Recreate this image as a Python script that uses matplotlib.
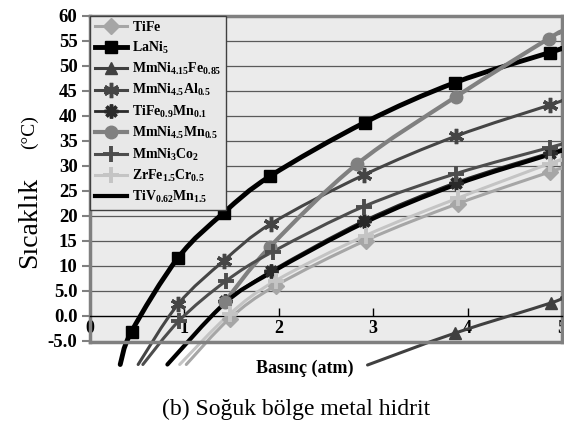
import matplotlib
matplotlib.use("Agg")
from matplotlib import pyplot as plt
from matplotlib.path import Path
from matplotlib.patches import PathPatch, Rectangle
from matplotlib.lines import Line2D
import numpy as np

plt.rcParams["font.family"] = ["Liberation Serif", "DejaVu Serif"]
plt.rcParams["mathtext.fontset"] = "custom"
plt.rcParams["mathtext.rm"] = "Liberation Serif"
plt.rcParams["mathtext.bf"] = "Liberation Serif:bold"

# okunan değerler (basınç atm, sıcaklık °C)
tife_x = [1.48, 1.97, 2.92, 3.90, 4.87]
tife_y = [-0.6, 6.0, 15.0, 22.4, 28.7]
lani5_x = [0.44, 0.935, 1.42, 1.91, 2.91, 3.87, 4.87]
lani5_y = [-3.2, 11.6, 20.6, 27.9, 38.6, 46.6, 52.6]
mmfe_x = [3.87, 4.88]
mmfe_y = [-3.5, 2.5]
mmal_x = [0.935, 1.42, 1.92, 2.90, 3.88, 4.87]
mmal_y = [2.3, 11.0, 18.4, 28.1, 35.9, 42.1]
tifemn_x = [1.43, 1.92, 2.90, 3.88, 4.87]
tifemn_y = [2.9, 8.9, 18.9, 26.6, 32.5]
mmmn_x = [1.43, 1.91, 2.83, 3.88, 4.86]
mmmn_y = [2.8, 13.8, 30.3, 43.8, 55.4]
mmco_x = [0.946, 1.44, 1.94, 2.90, 3.88, 4.87]
mmco_y = [-1.0, 6.9, 12.8, 21.8, 28.4, 33.6]
zrfe_x = [1.48, 1.97, 2.92, 3.90, 4.87]
zrfe_y = [0.3, 7.0, 16.0, 23.5, 30.4]
tiv_x = [1.43, 1.92, 2.90, 3.88, 4.87]
tiv_y = [2.5, 8.6, 18.5, 26.2, 32.2]

# eğrilerin grafik dışına taşan uçları: alt uç (x, y) ve x=5'teki değer
tife_ends = [(1.02, -9.8), 29.5]
lani5_ends = [(0.32, -9.8), 53.4]
mmfe_ends = [(2.94, -9.9), 3.6]
mmal_ends = [(0.51, -9.8), 43.0]
tifemn_ends = [None, 33.2]
mmmn_ends = [None, 56.8]
mmco_ends = [(0.56, -9.8), 34.3]
zrfe_ends = [(0.95, -9.8), 31.1]
tiv_ends = [(0.82, -9.8), 33.0]

labels = [r"$\mathbf{TiFe}$", r"$\mathbf{LaNi_5}$", r"$\mathbf{MmNi_{4.15}Fe_{0.85}}$",
          r"$\mathbf{MmNi_{4.5}Al_{0.5}}$", r"$\mathbf{TiFe_{0.9}Mn_{0.1}}$",
          r"$\mathbf{MmNi_{4.5}Mn_{0.5}}$", r"$\mathbf{MmNi_3Co_2}$",
          r"$\mathbf{ZrFe_{1.5}Cr_{0.5}}$", r"$\mathbf{TiV_{0.62}Mn_{1.5}}$"]
ytick_vals = [-5, 0, 5, 10, 15, 20, 25, 30, 35, 40, 45, 50, 55, 60]
ytick_labels = ["-5.0", "0.0", "5.0", "10", "15", "20", "25", "30", "35", "40", "45", "50", "55", "60"]
xtick_vals = [0, 1, 2, 3, 4, 5]

series = [
    (tife_x, tife_y, tife_ends, "#a6a6a6", 2.2, "D", 8, 1),
    (lani5_x, lani5_y, lani5_ends, "black", 3.5, "s", 8, 1),
    (mmfe_x, mmfe_y, mmfe_ends, "#404040", 2.2, "^", 8, 1),
    (mmal_x, mmal_y, mmal_ends, "#454545", 2.2, (6, 2, 0), 11, 2.5),
    (tifemn_x, tifemn_y, tifemn_ends, "#2a2a2a", 2.0, (8, 2, 0), 10, 2.5),
    (mmmn_x, mmmn_y, mmmn_ends, "#808080", 3.0, "o", 9, 1),
    (mmco_x, mmco_y, mmco_ends, "#4d4d4d", 2.2, "+", 11, 2.8),
    (zrfe_x, zrfe_y, zrfe_ends, "#c4c4c4", 2.2, "+", 11, 2.8),
    (tiv_x, tiv_y, tiv_ends, "black", 3.0, None, 0, 1),
]


def smooth_path(xs, ys):
    # excel'deki yumuşatılmış çizgi gibi bezier
    pts = np.column_stack([xs, ys])
    n = len(pts)
    verts = [pts[0]]
    codes = [Path.MOVETO]
    for i in range(n - 1):
        p0 = pts[i - 1] if i > 0 else pts[i]
        p1 = pts[i]
        p2 = pts[i + 1]
        p3 = pts[i + 2] if i + 2 < n else pts[i + 1]
        verts += [p1 + (p2 - p0) / 6, p2 - (p3 - p1) / 6, p2]
        codes += [Path.CURVE4] * 3
    return Path(verts, codes)


fig = plt.figure(figsize=(5.64, 4.22), dpi=100)
ax = fig.add_axes([90 / 564, 1 - 342 / 422, 472 / 564, 326.5 / 422])
ax.set_facecolor("#ebebeb")
ax.set_xlim(0, 5)
ax.set_ylim(-5.3, 60)

for v in range(5, 60, 5):
    ax.axhline(v, color="#5a5a5a", lw=0.9, zorder=1)

handles = []
for xs, ys, ends, color, lw, marker, ms, mew in series:
    lx = list(xs)
    ly = list(ys)
    if ends[0] is not None:
        lx = [ends[0][0]] + lx
        ly = [ends[0][1]] + ly
    lx.append(5.0)
    ly.append(ends[1])
    patch = PathPatch(smooth_path(lx, ly), fill=False, edgecolor=color, lw=lw,
                      capstyle="round", zorder=3)
    ax.add_patch(patch)
    patch.set_clip_path(Rectangle((0, -0.5), 1, 1.5, transform=ax.transAxes))
    if marker is not None:
        ax.plot(xs, ys, linestyle="none", marker=marker, ms=ms, color=color,
                mec=color, mew=mew, zorder=4)
    handles.append(Line2D([], [], color=color, lw=lw, marker=marker, ms=ms,
                          mec=color, mew=mew))

ax.spines["bottom"].set_position(("data", 0))
ax.spines["bottom"].set_color("black")
ax.spines["bottom"].set_linewidth(1)
for s in ["left", "top", "right"]:
    ax.spines[s].set_color("#808080")
    ax.spines[s].set_linewidth(2.5)
ax.axhline(-5.3, color="#808080", lw=2.5, clip_on=False, zorder=5)

ax.set_yticks(ytick_vals)
ax.set_yticklabels(ytick_labels, fontsize=13.5, fontweight="bold")
ax.tick_params(axis="y", direction="out", length=6, width=1.5, color="#808080", pad=3)
ax.set_xticks(xtick_vals)
ax.set_xticklabels([str(v) for v in xtick_vals], fontsize=13, fontweight="bold")
ax.tick_params(axis="x", direction="in", length=6, width=1, color="black", pad=3)

leg = ax.legend(handles, labels, loc="upper left", bbox_to_anchor=(0, 1),
                borderaxespad=0, fontsize=10, handlelength=2.3, handletextpad=0.35,
                labelspacing=0.38, borderpad=0.35, fancybox=False, framealpha=1,
                facecolor="#e8e8e8", edgecolor="#404040")
leg.get_frame().set_linewidth(1)
leg.set_zorder(6)

fig.text(305 / 564, 1 - 368 / 422, "Basınç (atm)", ha="center", va="center",
         fontsize=13, fontweight="bold")
fig.text(30 / 564, 1 - 222 / 422, "Sıcaklık", ha="center", va="center",
         rotation=90, fontsize=20)
fig.text(29 / 564, 1 - 132 / 422, "(°C)", ha="center", va="center",
         rotation=90, fontsize=14)
fig.text(296 / 564, 1 - 409 / 422, "(b) Soğuk bölge metal hidrit", ha="center",
         va="center", fontsize=17)

plt.savefig("out.png", dpi=100)
